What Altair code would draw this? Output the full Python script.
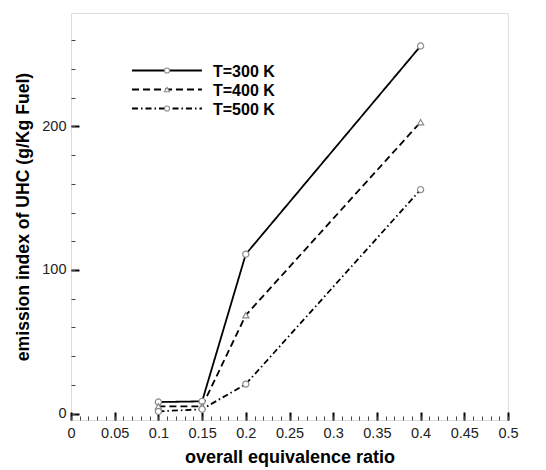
import altair as alt
import pandas as pd

# ---- data ----
phi = [0.1, 0.15, 0.2, 0.4]
series = ["T=300 K", "T=400 K", "T=500 K"]
uhc_300 = [8, 8.5, 111, 256]
uhc_400 = [5, 5, 68.5, 203]
uhc_500 = [1.5, 3, 20.5, 156]
x_major = [0, 0.05, 0.1, 0.15, 0.2, 0.25, 0.3, 0.35, 0.4, 0.45, 0.5]
x_minor = [round(i * 0.01, 2) for i in range(51)]
y_major = [0, 100, 200]
y_minor = [20 * i for i in range(14)]

rows = []
for s, vals in zip(series, [uhc_300, uhc_400, uhc_500]):
    for p, v in zip(phi, vals):
        rows.append({"phi": p, "uhc": v, "series": s})
df = pd.DataFrame(rows)

W, H = 437, 407
xscale = alt.Scale(domain=[0, 0.5], nice=False, zero=False)
yscale = alt.Scale(domain=[-4.5, 279], nice=False, zero=False)
dashes = [[1, 0], [7, 4], [6, 3, 1.5, 3]]
shapes = ["circle", "triangle-up", "circle"]
FONT = "Liberation Sans"

# labels + titles axis
label_x = alt.Axis(values=x_major, format="~g", ticks=False, domain=False, grid=False,
                   orient="bottom", labelFont=FONT, labelFontSize=14.5, labelColor="#222",
                   labelPadding=6, title="overall equivalence ratio", titleFont=FONT,
                   titleFontSize=18, titleFontWeight="bold", titlePadding=9,
                   labelFlush=False, labelOverlap=False)
label_y = alt.Axis(values=y_major, ticks=False, domain=False, grid=False, orient="left",
                   labelFont=FONT, labelFontSize=14.5, labelColor="#222", labelPadding=5,
                   title="emission index of UHC (g/Kg Fuel)", titleFont=FONT,
                   titleFontSize=17.6, titleFontWeight="bold", titlePadding=9)

lines = alt.Chart(df).mark_line(color="black", strokeWidth=1.8).encode(
    x=alt.X("phi:Q", scale=xscale, axis=label_x),
    y=alt.Y("uhc:Q", scale=yscale, axis=label_y),
    strokeDash=alt.StrokeDash("series:N", scale=alt.Scale(domain=series, range=dashes), legend=None),
    detail="series:N",
)

# major ticks, drawn inward
major_x = alt.Axis(values=x_major, labels=False, domain=False, grid=False, orient="bottom",
                   tickSize=8, offset=-8, tickWidth=2, tickColor="black", title=None)
major_y = alt.Axis(values=y_major, labels=False, domain=False, grid=False, orient="left",
                   tickSize=8, offset=-8, tickWidth=2, tickColor="black", title=None)
points = alt.Chart(df).mark_point(filled=True, fill="white", stroke="#8a8a8a",
                                  strokeWidth=1.2, size=38, opacity=1).encode(
    x=alt.X("phi:Q", scale=xscale, axis=major_x),
    y=alt.Y("uhc:Q", scale=yscale, axis=major_y),
    shape=alt.Shape("series:N", scale=alt.Scale(domain=series, range=shapes), legend=None),
)

# minor ticks, drawn inward
minor_x = alt.Axis(values=x_minor, labels=False, domain=False, grid=False, orient="bottom",
                   tickSize=4, offset=-4, tickWidth=1, tickColor="#444", title=None)
minor_y = alt.Axis(values=y_minor, labels=False, domain=False, grid=False, orient="left",
                   tickSize=4, offset=-4, tickWidth=1, tickColor="#444", title=None)
minor = alt.Chart(df).mark_point(opacity=0).encode(
    x=alt.X("phi:Q", scale=xscale, axis=minor_x),
    y=alt.Y("uhc:Q", scale=yscale, axis=minor_y),
)

# custom legend inside the plot
legend_layers = []
for i, s in enumerate(series):
    ly = 57.5 + 19 * i
    d = pd.DataFrame({"series": [s]})
    legend_layers.append(
        alt.Chart(d).mark_rule(color="black", strokeWidth=1.8, strokeDash=dashes[i]).encode(
            x=alt.value(61), x2=alt.value(131), y=alt.value(ly))
    )
    legend_layers.append(
        alt.Chart(d).mark_point(filled=True, fill="white", stroke="#8a8a8a", strokeWidth=1.1,
                                size=26, shape=shapes[i], opacity=1).encode(
            x=alt.value(96), y=alt.value(ly))
    )
    legend_layers.append(
        alt.Chart(d).mark_text(align="left", baseline="middle", font=FONT, fontSize=16,
                               fontWeight="bold", color="black").encode(
            x=alt.value(142), y=alt.value(ly + 1), text="series:N")
    )

chart = alt.layer(lines, points, minor, *legend_layers).resolve_axis(
    x="independent", y="independent"
).properties(
    width=W, height=H,
    autosize=alt.AutoSizeParams(type="none"),
    padding={"left": 63, "top": 5, "right": 30, "bottom": 50},
).configure_view(stroke="black", strokeWidth=2).configure(background="white")

chart.save("out.html", embed_options={"renderer": "svg", "actions": False})
